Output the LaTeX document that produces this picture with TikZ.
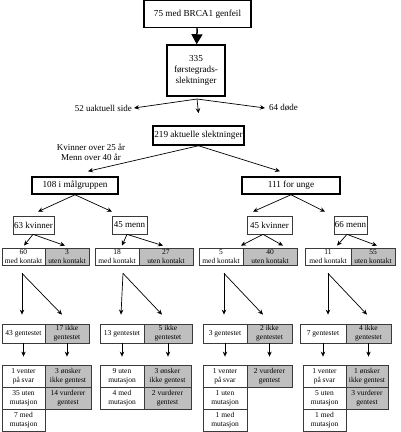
\documentclass[tikz,border=0pt]{standalone}
\usepackage{fontspec}
\setmainfont{Liberation Serif}
\usetikzlibrary{arrows.meta}
\definecolor{boxgray}{HTML}{BFBFBF}
\definecolor{linegray}{HTML}{3A3A3A}

\begin{document}
\begin{tikzpicture}[x=1pt, y=-1pt,
    thickbox/.style={draw=black, line width=1.5pt, inner sep=1pt, align=center, font=\fontsize{9.2}{11}\selectfont},
    thinbox/.style={draw=linegray, line width=0.7pt, inner sep=1pt, align=center, minimum height=18pt, font=\fontsize{9}{10}\selectfont},
    cell/.style={draw=linegray, line width=0.8pt, inner sep=0pt, align=center, font=\fontsize{7.5}{9}\selectfont},
    shaded/.style={cell, fill=boxgray},
    plain/.style={inner sep=2pt, align=center, font=\fontsize{9}{9.5}\selectfont},
    arr/.style={-{Stealth[length=5pt,width=4.5pt]}, line width=0.7pt}]
    \useasboundingbox (0,0) rectangle (400,432);

    % top of the tree
    \node[thickbox, minimum width=107pt, minimum height=27pt] (gen) at (197.5,14) {75 med BRCA1 genfeil};
    \node[thickbox, minimum width=58pt, minimum height=51pt] (forste) at (196,70.5) {335\\førstegrads-\\slektninger};
    \draw[-{Triangle[length=10pt,width=11pt]}, line width=1.5pt] (gen) -- (forste);

    \coordinate (fan) at (197,99);
    \node[plain, anchor=east] (uaktuell) at (134,108) {52 uaktuell side};
    \node[plain, anchor=west, inner sep=4pt] (dode) at (265,108) {64 døde};
    \node[thickbox, minimum width=91pt, minimum height=19pt] (aktuelle) at (198.5,135.5) {219 aktuelle slektninger};
    \draw[arr] (fan) -- (uaktuell.east);
    \draw[arr] (fan) -- (dode.west);
    \draw[arr] (fan) -- ([yshift=12pt]aktuelle.north);

    % target group and young
    \node[plain] (alder) at (91,152.5) {Kvinner over 25 år\\Menn over 40 år};
    \node[thickbox, minimum width=86pt, minimum height=17pt] (malgr) at (75,185.5) {108 i målgruppen};
    \node[thickbox, minimum width=98pt, minimum height=17pt] (unge) at (291,185.5) {111 for unge};
    \draw[arr] (aktuelle.south) -- ([xshift=13pt,yshift=5pt]malgr.north);
    \draw[arr] (aktuelle.south) -- ([xshift=-11pt,yshift=5pt]unge.north);

    % women and men
    \node[thinbox, minimum width=39pt] (kv1) at (33.5,225) {63 kvinner};
    \node[thinbox, minimum width=35pt] (me1) at (129.5,225) {45 menn};
    \node[thinbox, minimum width=45pt] (kv2) at (269.5,225) {45 kvinner};
    \node[thinbox, minimum width=33pt] (me2) at (350.5,225) {66 menn};
    \draw[arr] (malgr.south) -- ([xshift=4.5pt,yshift=4pt]kv1.north);
    \draw[arr] (malgr.south) -- ([xshift=-17.5pt,yshift=4pt]me1.north);
    \draw[arr] (unge.south) -- ([xshift=-16.5pt,yshift=4pt]kv2.north);
    \draw[arr] (unge.south) -- ([xshift=-25.5pt,yshift=4pt]me2.north);

    % contact
    \node[cell, minimum width=43pt, minimum height=17pt] (c1a) at (23.5,256.5) {60\\med kontakt};
    \node[shaded, minimum width=44pt, minimum height=17pt] (c1b) at (67,256.5) {3\\uten kontakt};
    \node[cell, minimum width=44pt, minimum height=17pt] (c2a) at (117,256.5) {18\\med kontakt};
    \node[shaded, minimum width=54pt, minimum height=17pt] (c2b) at (166,256.5) {27\\uten kontakt};
    \node[cell, minimum width=44pt, minimum height=17pt] (c3a) at (221,256.5) {5\\med kontakt};
    \node[shaded, minimum width=54pt, minimum height=17pt] (c3b) at (270,256.5) {40\\uten kontakt};
    \node[cell, minimum width=46pt, minimum height=17pt] (c4a) at (328,256.5) {11\\med kontakt};
    \node[shaded, minimum width=44pt, minimum height=17pt] (c4b) at (373,256.5) {55\\uten kontakt};
    \draw[arr] ([xshift=-0.5pt]kv1.south) -- ([xshift=0.5pt,yshift=2pt]c1a.north);
    \draw[arr] ([xshift=-0.5pt]kv1.south) -- ([xshift=-2pt,yshift=2pt]c1b.north);
    \draw[arr] ([xshift=-2.5pt]me1.south) -- ([xshift=5pt,yshift=2pt]c2a.north);
    \draw[arr] ([xshift=-2.5pt]me1.south) -- ([xshift=-3pt,yshift=2pt]c2b.north);
    \draw[arr] ([xshift=-6.5pt]kv2.south) -- ([xshift=20pt,yshift=2pt]c3a.north);
    \draw[arr] ([xshift=-6.5pt]kv2.south) -- ([xshift=13pt,yshift=2pt]c3b.north);
    \draw[arr] ([xshift=-3.5pt]me2.south) -- ([xshift=9pt,yshift=2pt]c4a.north);
    \draw[arr] ([xshift=-3.5pt]me2.south) -- ([xshift=4pt,yshift=2pt]c4b.north);

    % gene test
    \node[cell, minimum width=43pt, minimum height=19pt] (g1a) at (23.5,333.5) {43 gentestet};
    \node[shaded, minimum width=44pt, minimum height=19pt] (g1b) at (67,333.5) {17 ikke\\gentestet};
    \node[cell, minimum width=44pt, minimum height=19pt] (g2a) at (122,333.5) {13 gentestet};
    \node[shaded, minimum width=48pt, minimum height=19pt] (g2b) at (168,333.5) {5 ikke\\gentestet};
    \node[cell, minimum width=44pt, minimum height=19pt] (g3a) at (225,333.5) {3 gentestet};
    \node[shaded, minimum width=45pt, minimum height=19pt] (g3b) at (269.5,333.5) {2 ikke\\gentestet};
    \node[cell, minimum width=46pt, minimum height=19pt] (g4a) at (323,333.5) {7 gentestet};
    \node[shaded, minimum width=45pt, minimum height=19pt] (g4b) at (368.5,333.5) {4 ikke\\gentestet};
    \draw[arr] ([xshift=-1.5pt,yshift=-8pt]c1a.south) -- ([xshift=-1.5pt,yshift=9pt]g1a.north);
    \draw[arr] ([xshift=-1.5pt,yshift=-8pt]c1a.south) -- ([xshift=-5pt,yshift=9pt]g1b.north);
    \draw[arr] ([xshift=6pt,yshift=-8pt]c2a.south) -- ([xshift=-1pt,yshift=9pt]g2a.north);
    \draw[arr] ([xshift=6pt,yshift=-8pt]c2a.south) -- ([xshift=-6pt,yshift=9pt]g2b.north);
    \draw[arr] ([xshift=3pt,yshift=-8pt]c3a.south) -- ([xshift=-1pt,yshift=9pt]g3a.north);
    \draw[arr] ([xshift=3pt,yshift=-8pt]c3a.south) -- ([xshift=-6.5pt,yshift=9pt]g3b.north);
    \draw[arr] ([yshift=-8pt]c4a.south) -- ([xshift=5pt,yshift=9pt]g4a.north);
    \draw[arr] ([yshift=-8pt]c4a.south) -- ([xshift=-1.5pt,yshift=9pt]g4b.north);

    % results
    \node[cell, minimum width=43pt, minimum height=22pt] (b1a) at (23.5,376) {1 venter\\på svar};
    \node[cell, minimum width=43pt, minimum height=22pt] (b1c) at (23.5,398) {35 uten\\mutasjon};
    \node[cell, minimum width=43pt, minimum height=22pt] (b1e) at (23.5,420) {7 med\\mutasjon};
    \node[shaded, minimum width=46pt, minimum height=22pt] (b1b) at (68,376) {3 ønsker\\ikke gentest};
    \node[shaded, minimum width=46pt, minimum height=22pt] (b1d) at (68,398) {14 vurderer\\gentest};

    \node[cell, minimum width=44pt, minimum height=22pt] (b2a) at (122,376) {9 uten\\mutasjon};
    \node[cell, minimum width=44pt, minimum height=22pt] (b2c) at (122,398) {4 med\\mutasjon};
    \node[shaded, minimum width=47pt, minimum height=22pt] (b2b) at (167.5,376) {3 ønsker\\ikke gentest};
    \node[shaded, minimum width=47pt, minimum height=22pt] (b2d) at (167.5,398) {2 vurderer\\gentest};

    \node[cell, minimum width=44pt, minimum height=22pt] (b3a) at (225,376) {1 venter\\på svar};
    \node[cell, minimum width=44pt, minimum height=22pt] (b3c) at (225,398) {1 uten\\mutasjon};
    \node[cell, minimum width=44pt, minimum height=22pt] (b3e) at (225,420) {1 med\\mutasjon};
    \node[shaded, minimum width=45pt, minimum height=22pt] (b3b) at (269.5,376) {2 vurderer\\gentest};

    \node[cell, minimum width=43pt, minimum height=22pt] (b4a) at (324.5,376) {1 venter\\på svar};
    \node[cell, minimum width=43pt, minimum height=22pt] (b4c) at (324.5,398) {5 uten\\mutasjon};
    \node[cell, minimum width=43pt, minimum height=22pt] (b4e) at (324.5,420) {1 med\\mutasjon};
    \node[shaded, minimum width=42pt, minimum height=22pt] (b4b) at (367,376) {1 ønsker\\ikke gentest};
    \node[shaded, minimum width=42pt, minimum height=22pt] (b4d) at (367,398) {3 vurderer\\gentest};

    \draw[arr, shorten >=8pt] (g1a.south) -- (g1a.south |- b1a.north);
    \draw[arr, shorten >=8pt] (g1b.south) -- (g1b.south |- b1b.north);
    \draw[arr, shorten >=8pt] (g2a.south) -- (g2a.south |- b2a.north);
    \draw[arr, shorten >=8pt] (g2b.south) -- (g2b.south |- b2b.north);
    \draw[arr, shorten >=8pt] (g3a.south) -- (g3a.south |- b3a.north);
    \draw[arr, shorten >=8pt] (g3b.south) -- (g3b.south |- b3b.north);
    \draw[arr, shorten >=8pt] (g4a.south) -- (g4a.south |- b4a.north);
    \draw[arr, shorten >=8pt] (g4b.south) -- (g4b.south |- b4b.north);
\end{tikzpicture}
\end{document}
